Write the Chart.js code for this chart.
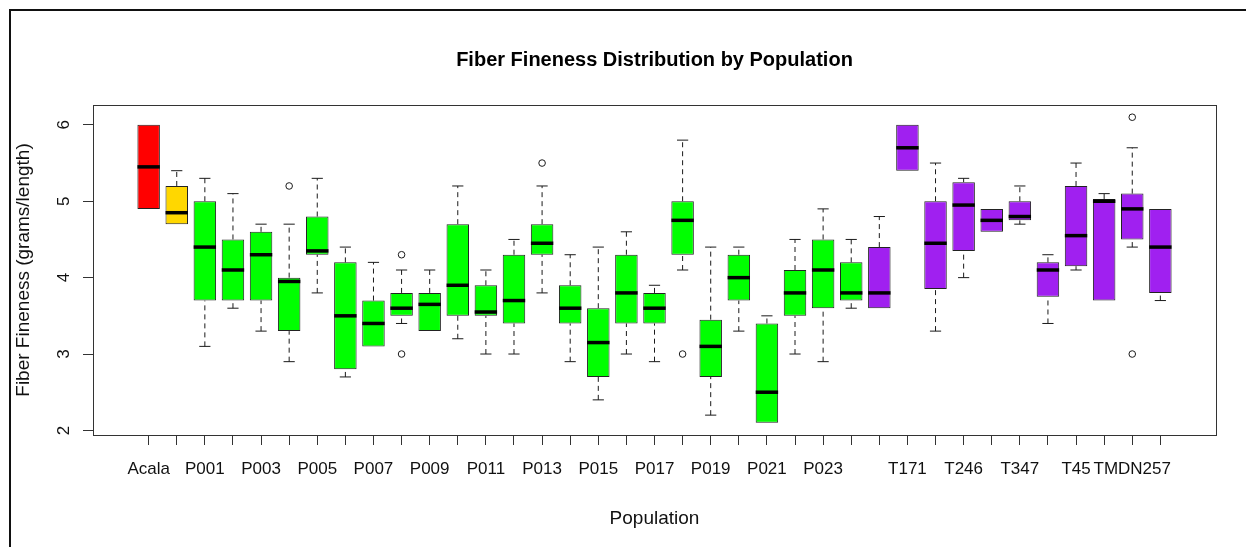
<!DOCTYPE html>
<html>
<head>
<meta charset="utf-8">
<title>Fiber Fineness Distribution by Population</title>
<script src="https://cdn.jsdelivr.net/npm/chart.js@4.4.1/dist/chart.umd.min.js"></script>
<style>
  html, body { margin: 0; padding: 0; background: #fff; }
  .wrap { position: relative; width: 1246px; height: 547px; }
  .frame {
    position: absolute; left: 9px; top: 9px; right: 0; bottom: 0;
    border-top: 2px solid #111; border-left: 2px solid #111;
    pointer-events: none;
  }
</style>
</head>
<body>
<div class="wrap">
  <canvas id="boxChart" width="1246" height="547"></canvas>
  <div class="frame"></div>
</div>
<script>
// populations in plotting order ('' = name not printed under the axis in the source)
const categories = [
  "Acala", "", "P001", "P002", "P003", "P004", "P005", "P006", "P007", "P008",
  "P009", "P010", "P011", "P012", "P013", "P014", "P015", "P016", "P017", "P018",
  "P019", "P020", "P021", "P022", "P023", "P024", "", "T171", "", "T246",
  "", "T347", "", "T45", "", "TMDN257", ""
];
const groups = [
  "acala", "check", "P", "P", "P", "P", "P", "P", "P", "P",
  "P", "P", "P", "P", "P", "P", "P", "P", "P", "P",
  "P", "P", "P", "P", "P", "P", "T", "T", "T", "T",
  "T", "T", "T", "T", "T", "T", "T"
];
// labels that the axis actually prints
const shownTicks = ["Acala", "P001", "P003", "P005", "P007", "P009", "P011", "P013",
  "P015", "P017", "P019", "P021", "P023", "T171", "T246", "T347", "T45", "TMDN257"];

// five-number summaries (grams/length)
const whiskerLow = [4.9, 4.7, 3.1, 3.6, 3.3, 2.9, 3.8, 2.7, 3.1, 3.4,
  3.3, 3.2, 3.0, 3.0, 3.8, 2.9, 2.4, 3.0, 2.9, 4.1,
  2.2, 3.3, 2.1, 3.0, 2.9, 3.6, 3.6, 5.4, 3.3, 4.0,
  4.6, 4.7, 3.4, 4.1, 3.7, 4.4, 3.7];
const q1 = [4.9, 4.7, 3.7, 3.7, 3.7, 3.3, 4.3, 2.8, 3.1, 3.5,
  3.3, 3.5, 3.5, 3.4, 4.3, 3.4, 2.7, 3.4, 3.4, 4.3,
  2.7, 3.7, 2.1, 3.5, 3.6, 3.7, 3.6, 5.4, 3.85, 4.35,
  4.6, 4.75, 3.75, 4.15, 3.7, 4.5, 3.8];
const median = [5.45, 4.85, 4.4, 4.1, 4.3, 3.95, 4.35, 3.5, 3.4, 3.6,
  3.65, 3.9, 3.55, 3.7, 4.45, 3.6, 3.15, 3.8, 3.6, 4.75,
  3.1, 4.0, 2.5, 3.8, 4.1, 3.8, 3.8, 5.7, 4.45, 4.95,
  4.75, 4.8, 4.1, 4.55, 5.0, 4.9, 4.4];
const q3 = [6.0, 5.2, 5.0, 4.5, 4.6, 4.0, 4.8, 4.2, 3.7, 3.8,
  3.8, 4.7, 3.9, 4.3, 4.7, 3.9, 3.6, 4.3, 3.8, 5.0,
  3.45, 4.3, 3.4, 4.1, 4.5, 4.2, 4.4, 6.0, 5.0, 5.25,
  4.9, 5.0, 4.2, 5.2, 5.03, 5.1, 4.9];
const whiskerHigh = [6.0, 5.4, 5.3, 5.1, 4.7, 4.7, 5.3, 4.4, 4.2, 4.1,
  4.1, 5.2, 4.1, 4.5, 5.2, 4.3, 4.4, 4.6, 3.9, 5.8,
  4.4, 4.4, 3.5, 4.5, 4.9, 4.5, 4.8, 6.0, 5.5, 5.3,
  4.9, 5.2, 4.3, 5.5, 5.1, 5.7, 4.9];
// outliers: population index (0-based) and value
const outlierIdx = [5, 9, 9, 14, 19, 35, 35];
const outlierVal = [5.2, 4.3, 3.0, 5.5, 3.0, 6.1, 3.0];

const yTicks = [2, 3, 4, 5, 6];

const groupColors = { acala: "#FF0000", check: "#FFD700", P: "#00FF00", T: "#A020F0" };
const ink = "#1a1a1a";
const fontFamily = "'Liberation Sans', Arial, sans-serif";

// x positions 1..n like R's boxplot
const xs = categories.map((c, i) => i + 1);

const whiskerPts = [];
const capPts = [];
xs.forEach((x, i) => {
  if (whiskerHigh[i] > q3[i]) {
    whiskerPts.push({ x: x, y: q3[i] }, { x: x, y: whiskerHigh[i] }, { x: x, y: null });
    capPts.push({ x: x, y: whiskerHigh[i] });
  }
  if (whiskerLow[i] < q1[i]) {
    whiskerPts.push({ x: x, y: whiskerLow[i] }, { x: x, y: q1[i] }, { x: x, y: null });
    capPts.push({ x: x, y: whiskerLow[i] });
  }
});

// R pads the range by 4% on both axes
const xPad = categories.length * 0.04;
const yPad = (6.1 - 2.1) * 0.04;

// plot box around the chart area
const plotBox = {
  id: "plotBox",
  beforeDatasetsDraw(chart) {
    const { ctx, chartArea: a } = chart;
    ctx.save();
    ctx.strokeStyle = "#333";
    ctx.lineWidth = 1;
    ctx.strokeRect(Math.round(a.left) + 0.5, Math.round(a.top) + 0.5,
      Math.round(a.right - a.left), Math.round(a.bottom - a.top));
    ctx.restore();
  }
};

const config = {
  type: "bar",
  data: {
    datasets: [
      {
        label: "whiskers",
        type: "line",
        data: whiskerPts,
        borderColor: ink,
        borderWidth: 1,
        borderDash: [5, 4],
        pointRadius: 0,
        spanGaps: false,
        order: 5,
      },
      {
        label: "caps",
        type: "scatter",
        data: capPts,
        pointStyle: "line",
        pointRadius: 5.6,
        borderColor: ink,
        borderWidth: 1,
        order: 4,
      },
      {
        label: "box",
        data: xs.map((x, i) => ({ x: x, y: [q1[i], q3[i]] })),
        backgroundColor: groups.map((g) => groupColors[g]),
        borderColor: "#222",
        borderWidth: 1,
        borderSkipped: false,
        barPercentage: 0.8,
        categoryPercentage: 1.0,
        order: 3,
      },
      {
        label: "median",
        type: "scatter",
        data: xs.map((x, i) => ({ x: x, y: median[i] })),
        pointStyle: "line",
        pointRadius: 11.2,
        borderColor: "#000",
        borderWidth: 3.5,
        order: 1,
      },
      {
        label: "outliers",
        type: "scatter",
        data: outlierIdx.map((k, j) => ({ x: k + 1, y: outlierVal[j] })),
        pointStyle: "circle",
        pointRadius: 3.3,
        backgroundColor: "rgba(0,0,0,0)",
        borderColor: ink,
        borderWidth: 1,
        order: 1,
      },
    ],
  },
  options: {
    responsive: false,
    animation: false,
    events: [],
    layout: { padding: { left: 0, right: 30, top: 0, bottom: 0 } },
    plugins: {
      legend: { display: false },
      tooltip: { enabled: false },
      title: {
        display: true,
        text: "Fiber Fineness Distribution by Population",
        fullSize: false,
        color: "#000",
        font: { family: fontFamily, size: 20, weight: "bold", lineHeight: 1.2 },
        padding: { top: 48, bottom: 33 },
      },
    },
    scales: {
      x: {
        type: "linear",
        min: 1 - 0.5 - xPad,
        max: categories.length + 0.5 + xPad,
        offset: false,
        afterBuildTicks: (scale) => {
          scale.ticks = xs.map((x) => ({ value: x }));
        },
        afterFit: (scale) => {
          scale.height = 112;
        },
        grid: {
          display: true,
          offset: false,
          drawOnChartArea: false,
          drawTicks: true,
          tickLength: 10,
          color: "#333",
        },
        border: { display: false },
        ticks: {
          autoSkip: false,
          minRotation: 0,
          maxRotation: 0,
          padding: 14,
          color: "#111",
          font: { family: fontFamily, size: 17 },
          callback: (value, index) => {
            const name = categories[index];
            return shownTicks.includes(name) ? name : "";
          },
        },
        title: {
          display: true,
          text: "Population",
          color: "#111",
          font: { family: fontFamily, size: 19, lineHeight: 1.2 },
          padding: { top: 0, bottom: 16.6 },
        },
      },
      y: {
        type: "linear",
        min: 2.1 - yPad,
        max: 6.1 + yPad,
        beginAtZero: false,
        afterBuildTicks: (scale) => {
          scale.ticks = yTicks.map((v) => ({ value: v }));
        },
        afterFit: (scale) => {
          scale.width = 93;
        },
        grid: {
          display: true,
          drawOnChartArea: false,
          drawTicks: true,
          tickLength: 10,
          color: "#333",
        },
        border: { display: false },
        ticks: {
          minRotation: 90,
          maxRotation: 90,
          crossAlign: "center",
          padding: 14,
          color: "#111",
          font: { family: fontFamily, size: 17 },
          callback: (v) => String(v),
        },
        title: {
          display: true,
          text: "Fiber Fineness (grams/length)",
          color: "#111",
          font: { family: fontFamily, size: 19, lineHeight: 1.2 },
          padding: { top: 12.5, bottom: 0 },
        },
      },
    },
  },
  plugins: [plotBox],
};

var ctx = document.getElementById("boxChart").getContext("2d");
var boxChart = new Chart(ctx, config);
</script>
</body>
</html>
